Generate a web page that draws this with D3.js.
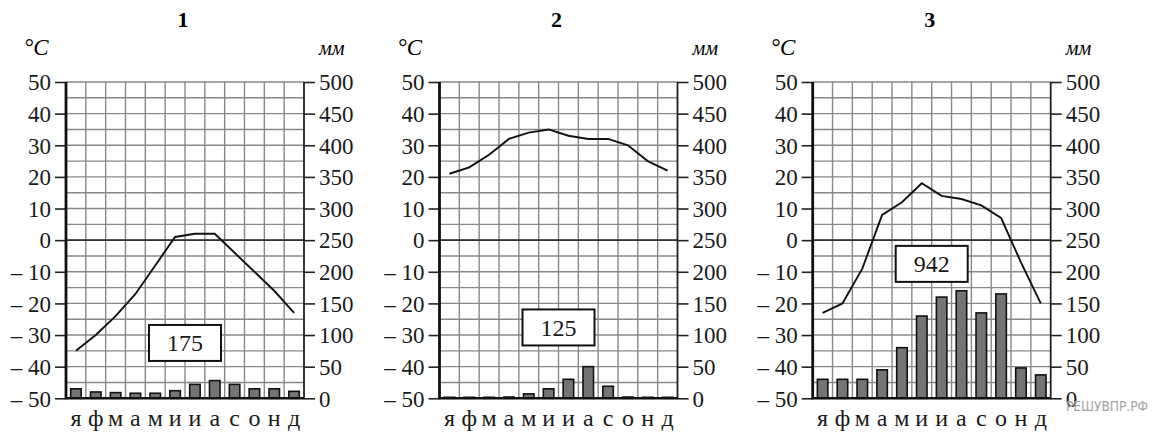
<!DOCTYPE html>
<html>
<head>
<meta charset="utf-8">
<script src="https://cdn.jsdelivr.net/npm/d3@7"></script>
<style>
  body { margin: 0; background: #fff; }
  svg { display: block; }
</style>
</head>
<body>
<div id="chart"></div>
<script>
// climate diagrams: month letters, temperature (°C), precipitation (mm)
const months = ["я", "ф", "м", "а", "м", "и", "и", "а", "с", "о", "н", "д"];
const titles = ["1", "2", "3"];

const temp1 = [-35, -30, -24, -17, -8, 1, 2, 2, -4, -10, -16, -23];
const precip1 = [15, 10, 9, 8, 8, 12, 22, 28, 22, 15, 15, 11];

const temp2 = [21, 23, 27, 32, 34, 35, 33, 32, 32, 30, 25, 22];
const precip2 = [0, 0, 0, 2, 7, 15, 30, 50, 19, 2, 0, 0];

const temp3 = [-23, -20, -9, 8, 12, 18, 14, 13, 11, 7, -7, -20];
const precip3 = [30, 30, 30, 45, 80, 130, 160, 170, 135, 165, 48, 37];

const totals = [175, 125, 942];

const tempTicks = d3.range(-50, 51, 10);
const precipTicks = d3.range(0, 501, 50);

// layout
const width = 1153, height = 435;
const plotTop = 82, plotBottom = 398.3, plotW = 238;
const lefts = [66, 439.5, 812.7];
const boxTemp = [-32.5, -27.6, -7.5];   // vertical centre of the total box, in °C
const serif = "'Liberation Serif', 'DejaVu Serif', serif";

const panels = [
    { temp: temp1, precip: precip1 },
    { temp: temp2, precip: precip2 },
    { temp: temp3, precip: precip3 }
];

const svg = d3.select("#chart")
    .append("svg")
    .attr("width", width)
    .attr("height", height);

function fmtTemp(d) {
    return d < 0 ? "\u2013 " + Math.abs(d) : String(d);
}

function drawPanel(i) {
    const x0 = lefts[i], x1 = x0 + plotW;
    const g = svg.append("g");

    const col = d3.scaleLinear().domain([0, 12]).range([x0, x1]);
    const x = d3.scaleBand()
        .domain(d3.range(12))
        .range([x0, x1])
        .paddingInner(0.47)
        .paddingOuter(0.235);
    const yT = d3.scaleLinear().domain([-50, 50]).range([plotBottom, plotTop]);
    const yP = d3.scaleLinear().domain([0, 500]).range([plotBottom, plotTop]);

    // grid
    g.append("g")
        .selectAll("line")
        .data(d3.range(-45, 51, 5))
        .join("line")
        .attr("x1", x0).attr("x2", x1)
        .attr("y1", d => yT(d)).attr("y2", d => yT(d))
        .attr("stroke", "#888")
        .attr("stroke-width", 1.4);

    g.append("g")
        .selectAll("line")
        .data(d3.range(1, 12))
        .join("line")
        .attr("x1", d => col(d)).attr("x2", d => col(d))
        .attr("y1", plotTop).attr("y2", plotBottom)
        .attr("stroke", "#888")
        .attr("stroke-width", 1.4);

    // zero line
    g.append("line")
        .attr("x1", x0).attr("x2", x1)
        .attr("y1", yT(0)).attr("y2", yT(0))
        .attr("stroke", "#333")
        .attr("stroke-width", 1.7);

    // precipitation bars
    g.append("g")
        .selectAll("rect")
        .data(panels[i].precip)
        .join("rect")
        .attr("x", (d, j) => x(j))
        .attr("y", d => Math.min(yP(d), yP(0) - 1))
        .attr("width", x.bandwidth())
        .attr("height", d => Math.max(yP(0) - yP(d), 1))
        .attr("fill", "#747474")
        .attr("stroke", "#111")
        .attr("stroke-width", 1.6);

    // temperature line
    const line = d3.line()
        .x((d, j) => x(j) + x.bandwidth() / 2)
        .y(d => yT(d));

    g.append("path")
        .datum(panels[i].temp)
        .attr("d", line)
        .attr("fill", "none")
        .attr("stroke", "#111")
        .attr("stroke-width", 1.9);

    // axes
    const leftAxis = g.append("g")
        .attr("transform", `translate(${x0},0)`)
        .call(d3.axisLeft(yT).tickValues(tempTicks).tickSize(11).tickPadding(4).tickFormat(fmtTemp));

    const rightAxis = g.append("g")
        .attr("transform", `translate(${x1},0)`)
        .call(d3.axisRight(yP).tickValues(precipTicks).tickSize(11).tickPadding(4));

    [leftAxis, rightAxis].forEach(a => {
        a.select(".domain").remove();
        a.attr("font-family", serif).attr("font-size", 23);
        a.selectAll(".tick line").attr("stroke", "#222").attr("stroke-width", 1.6);
        a.selectAll(".tick text").attr("fill", "#1a1a1a").attr("dy", "0.34em");
    });

    g.append("line")
        .attr("x1", x0).attr("x2", x0)
        .attr("y1", plotTop).attr("y2", plotBottom + 1)
        .attr("stroke", "#111").attr("stroke-width", 2.8);
    g.append("line")
        .attr("x1", x1).attr("x2", x1)
        .attr("y1", plotTop).attr("y2", plotBottom + 1)
        .attr("stroke", "#222").attr("stroke-width", 1.8);
    g.append("line")
        .attr("x1", x0).attr("x2", x1)
        .attr("y1", plotBottom).attr("y2", plotBottom)
        .attr("stroke", "#111").attr("stroke-width", 2.4);

    // month letters
    g.append("g")
        .selectAll("text")
        .data(months)
        .join("text")
        .attr("x", (d, j) => x(j) + x.bandwidth() / 2)
        .attr("y", 426)
        .attr("text-anchor", "middle")
        .attr("font-family", serif)
        .attr("font-size", 24)
        .attr("fill", "#1a1a1a")
        .text(d => d);

    // total precipitation box
    const bw = 72, bh = 36;
    const bx = col(6), by = yT(boxTemp[i]);
    g.append("rect")
        .attr("x", bx - bw / 2).attr("y", by - bh / 2)
        .attr("width", bw).attr("height", bh)
        .attr("fill", "#fff")
        .attr("stroke", "#111")
        .attr("stroke-width", 2);
    g.append("text")
        .attr("x", bx).attr("y", by)
        .attr("dy", "0.35em")
        .attr("text-anchor", "middle")
        .attr("font-family", serif)
        .attr("font-size", 24)
        .attr("fill", "#1a1a1a")
        .text(totals[i]);

    // titles and units
    g.append("text")
        .attr("x", (x0 + x1) / 2 - 2).attr("y", 27)
        .attr("text-anchor", "middle")
        .attr("font-family", serif)
        .attr("font-weight", "bold")
        .attr("font-size", 22)
        .text(titles[i]);
    g.append("text")
        .attr("x", x0 - 42).attr("y", 55)
        .attr("font-family", serif)
        .attr("font-style", "italic")
        .attr("font-size", 23)
        .text("°C");
    g.append("text")
        .attr("x", x1 + 15).attr("y", 55)
        .attr("font-family", serif)
        .attr("font-style", "italic")
        .attr("font-size", 20)
        .text("мм");
}

panels.forEach((p, i) => drawPanel(i));

// watermark
svg.append("text")
    .attr("x", 1066).attr("y", 411)
    .attr("font-family", "'DejaVu Sans', sans-serif")
    .attr("font-size", 14)
    .attr("textLength", 82)
    .attr("lengthAdjust", "spacingAndGlyphs")
    .attr("fill", "#a3a3a3")
    .text("РЕШУВПР.РФ");
</script>
</body>
</html>
